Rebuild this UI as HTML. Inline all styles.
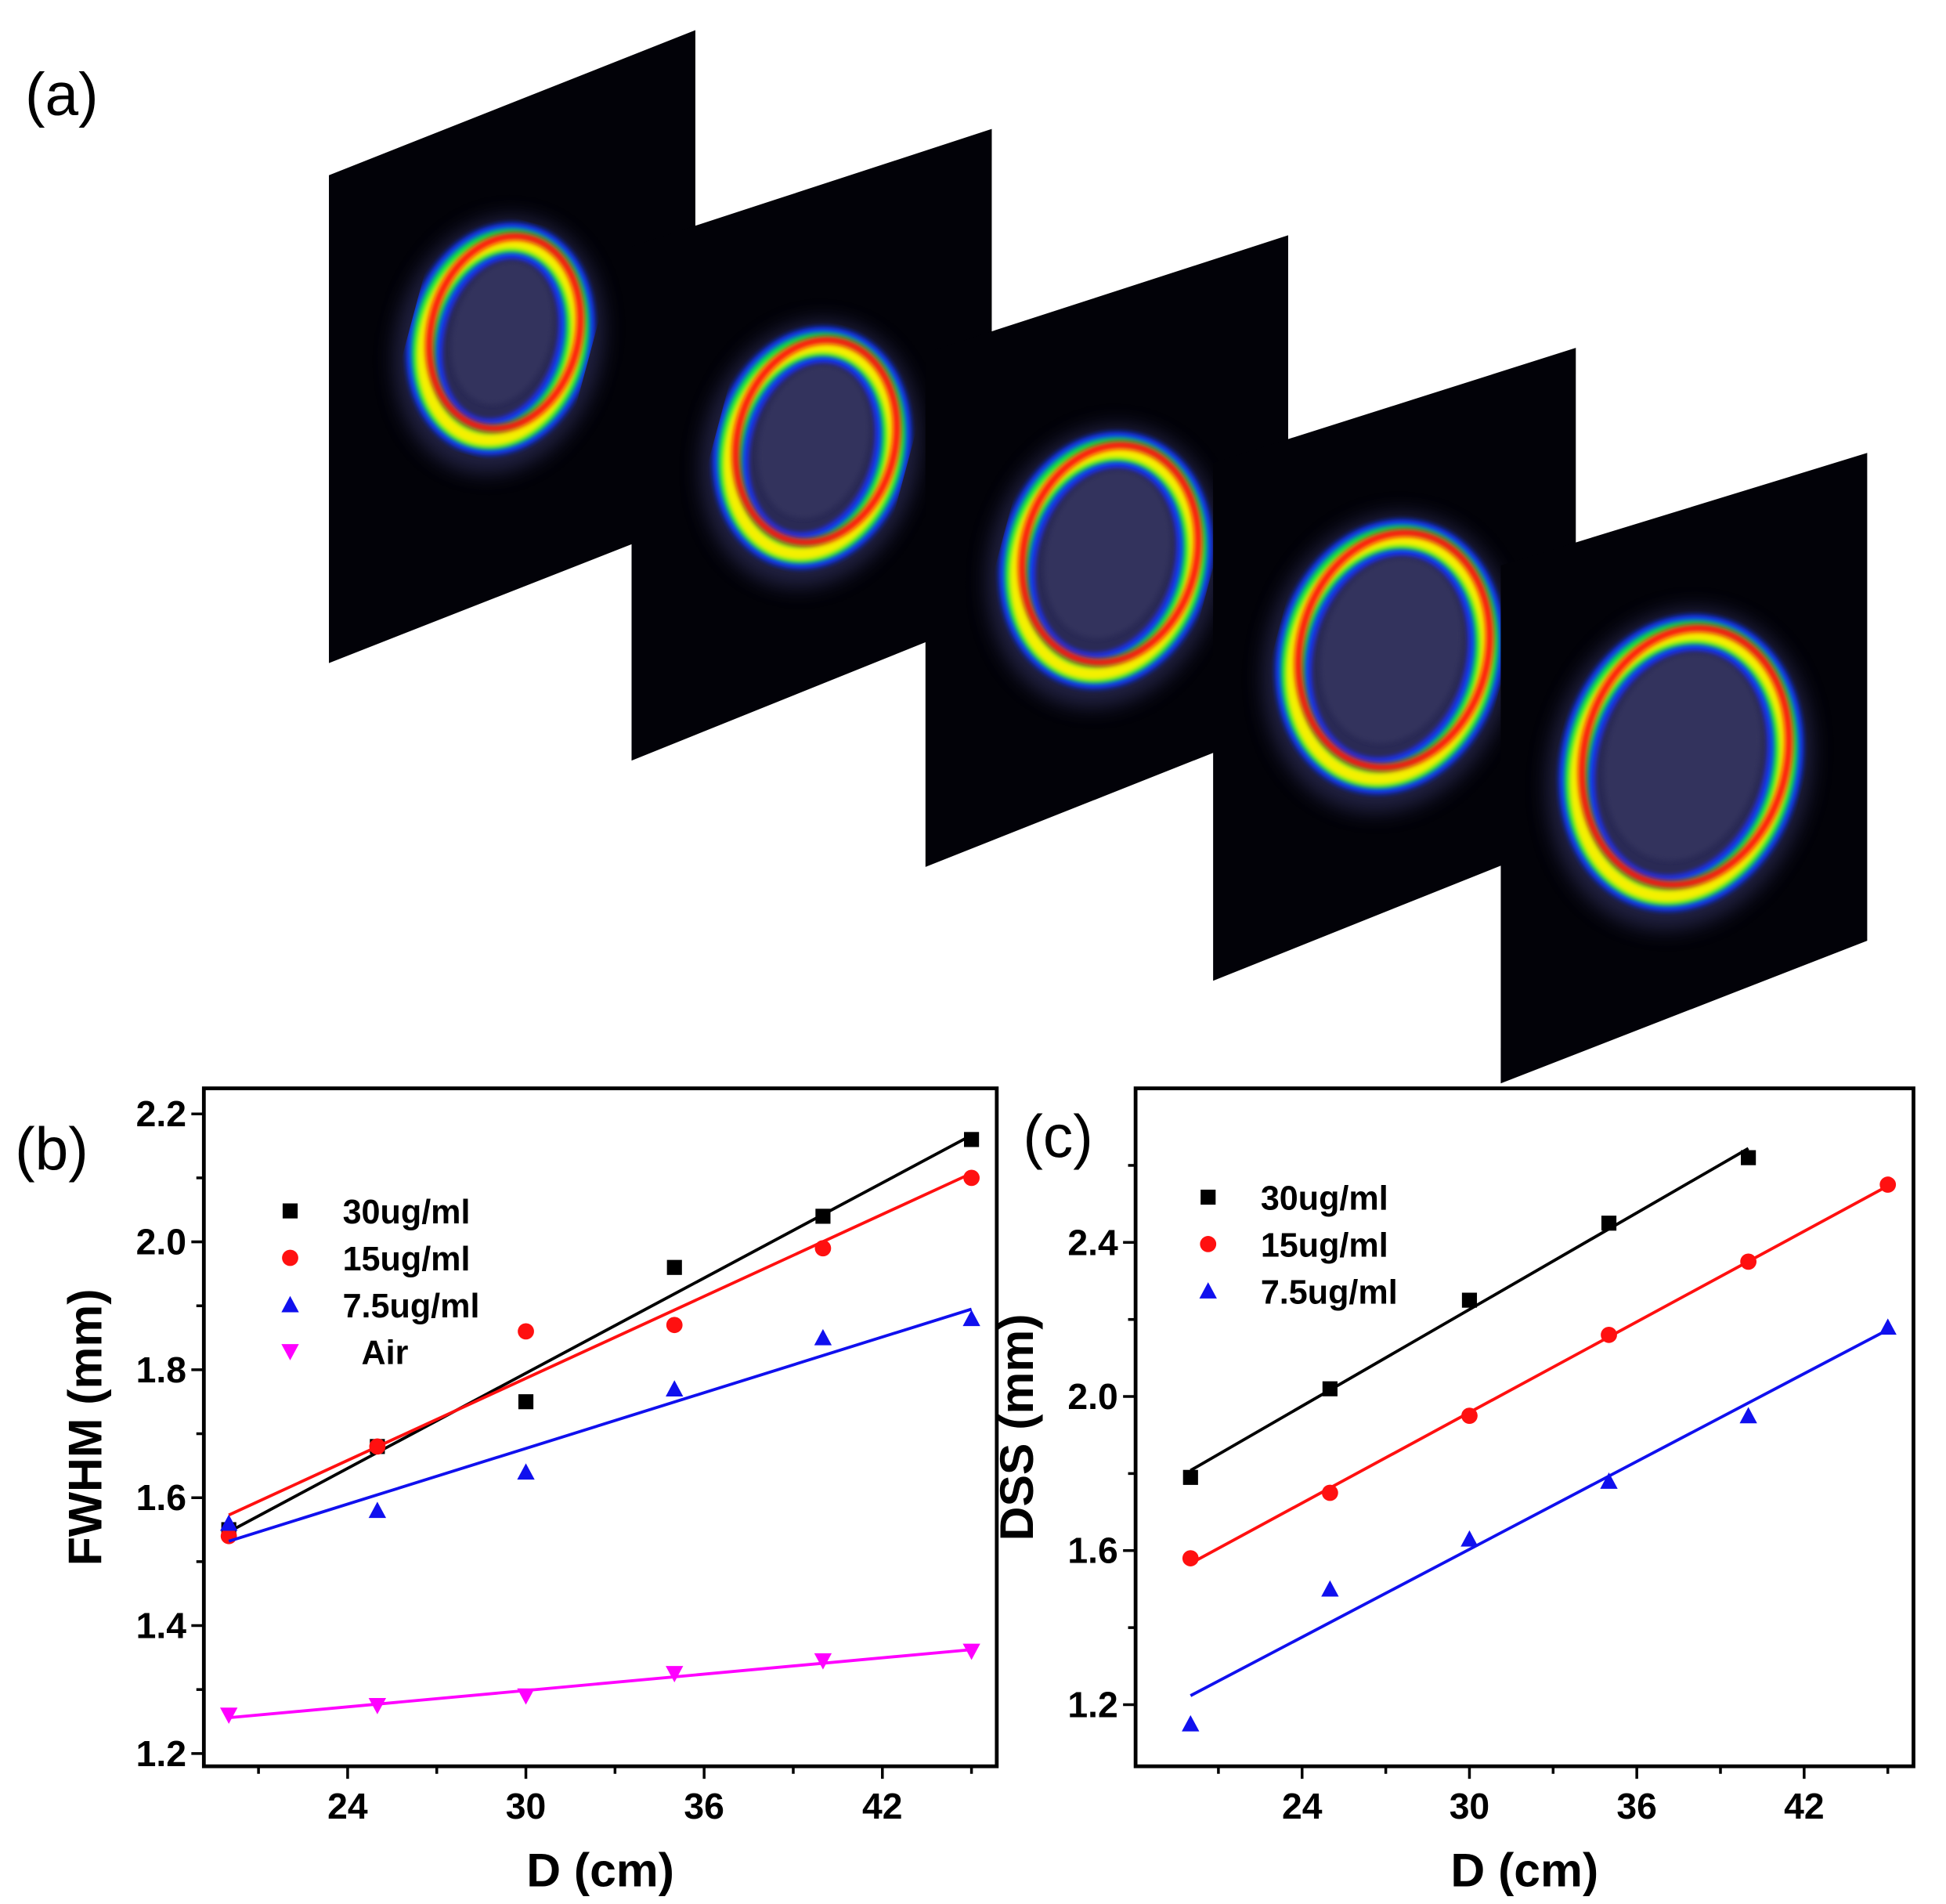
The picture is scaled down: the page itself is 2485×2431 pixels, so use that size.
<!DOCTYPE html>
<html><head><meta charset="utf-8"><style>
html,body{margin:0;padding:0;background:#fff;}
svg{display:block;}
text{font-family:"Liberation Sans",Arial,sans-serif;}
</style></head><body>
<svg id="fig" width="2485" height="2431" viewBox="0 0 1556 1522" xmlns="http://www.w3.org/2000/svg">
<defs>
<filter id="blur2"><feGaussianBlur stdDeviation="2"/></filter>
<filter id="blur6"><feGaussianBlur stdDeviation="8"/></filter>
</defs>
<g id="panelA"></g>
<text x="20" y="92" font-size="48">(a)</text>
<g id="chartB"></g>
<g id="chartC"></g>
</svg>
<script>
const NS='http://www.w3.org/2000/svg';
function mk(parent,tag,attrs){const e=document.createElementNS(NS,tag);for(const k in attrs)e.setAttribute(k,attrs[k]);parent.appendChild(e);return e;}

// ---------- Panel (a): beam images ----------
const panelA=document.getElementById('panelA');
const plates=[[263,140,556,24,556,415,263,530],[505,197,793,103,793,492,505,608],[740,282,1030,188,1030,578,740,693],[970,370,1260,278,1260,668,970,784],[1200,452,1493,362,1493,752,1200,866]];
const rings=[[401,268,60,80],[650,355,64,84],[885,445,70,90],[1112,522,76,97],[1345,607,82,106]];
plates.forEach((p,i)=>{
  const g=mk(panelA,'g',{});
  
  
  mk(g,'polygon',{points:`${p[0]},${p[1]} ${p[2]},${p[3]} ${p[4]},${p[5]} ${p[6]},${p[7]}`,fill:'#020208'});
  const [cx,cy,rx,ry]=rings[i];
  const t=`rotate(15 ${cx} ${cy})`;
  mk(g,'ellipse',{cx,cy:cy+8,rx:rx+22,ry:ry+24,fill:'#40407a',opacity:0.5,filter:'url(#blur6)',transform:t});
  mk(g,'ellipse',{cx,cy:cy+3,rx,ry,fill:'#2a2a55',stroke:'#1030ff',"stroke-width":28,filter:'url(#blur2)',transform:t});
  mk(g,'ellipse',{cx,cy:cy+3,rx,ry,fill:'none',stroke:'#00e840',"stroke-width":19,filter:'url(#blur2)',transform:t});
  mk(g,'ellipse',{cx,cy:cy+5,rx,ry,fill:'none',stroke:'#f4f000',"stroke-width":11,filter:'url(#blur2)',transform:t});
  mk(g,'ellipse',{cx:cx+2,cy:cy-3,rx:rx-1,ry:ry-2,fill:'none',stroke:'#ff1010',"stroke-width":6,filter:'url(#blur2)',transform:t});
  mk(g,'ellipse',{cx,cy:cy-2,rx:rx-21,ry:ry-22,fill:'#34345e',opacity:0.85,filter:'url(#blur2)',transform:t});
});

// ---------- Chart data ----------
const xB=[20,25,30,35,40,45];
const b30=[1.55,1.68,1.75,1.96,2.04,2.16];
const b15=[1.54,1.68,1.86,1.87,1.99,2.10];
const b75=[1.56,1.58,1.64,1.77,1.85,1.88];
const bAir=[1.26,1.275,1.29,1.325,1.345,1.36];
const bYTicks=[1.2,1.4,1.6,1.8,2.0,2.2];
const bYLabels=['1.2','1.4','1.6','1.8','2.0','2.2'];
const xTicks=[24,30,36,42];
const xTickLabels=['24','30','36','42'];
const xC=[20,25,30,35,40,45];
const c30=[1.79,2.02,2.25,2.45,2.62];
const c15=[1.58,1.75,1.95,2.16,2.35,2.55];
const c75=[1.15,1.50,1.63,1.78,1.95,2.18];
const cYTicks=[1.2,1.6,2.0,2.4];
const cYLabels=['1.2','1.6','2.0','2.4'];
const legB=['30ug/ml','15ug/ml','7.5ug/ml','Air'];
const legC=['30ug/ml','15ug/ml','7.5ug/ml'];

function fit(xs,ys){const n=ys.length;const x=xs.slice(0,n);let mx=0,my=0;for(let i=0;i<n;i++){mx+=x[i];my+=ys[i];}mx/=n;my/=n;let sxy=0,sxx=0;for(let i=0;i<n;i++){sxy+=(x[i]-mx)*(ys[i]-my);sxx+=(x[i]-mx)**2;}const b=sxy/sxx;return [b,my-b*mx,x[0],x[n-1]];}

function marker(g,type,x,y,color){
  let e;
  if(type==='sq') e=mk(g,'rect',{x:x-6,y:y-6,width:12,height:12,fill:color});
  else if(type==='ci') e=mk(g,'circle',{cx:x,cy:y,r:6.5,fill:color});
  else if(type==='up') e=mk(g,'polygon',{points:`${x},${y-7} ${x+7},${y+6} ${x-7},${y+6}`,fill:color});
  else e=mk(g,'polygon',{points:`${x},${y+7} ${x+7},${y-6} ${x-7},${y-6}`,fill:color});
  return e;
}

function chart(id,box,xr,yr,yTicks,yLabels,minorY,ytitle,series,legend,legPos){
  const g=document.getElementById(id);
  const [L,T,R,B]=box;
  const sx=v=>L+(v-xr[0])/(xr[1]-xr[0])*(R-L);
  const sy=v=>B-(v-yr[0])/(yr[1]-yr[0])*(B-T);
  const frame=mk(g,'rect',{x:L,y:T,width:R-L,height:B-T,fill:'none',stroke:'#000','stroke-width':3});
  
  
  xTicks.forEach((v,i)=>{
    mk(g,'line',{x1:sx(v),y1:B,x2:sx(v),y2:B+10,stroke:'#000','stroke-width':2.2});
    const m=v+3; if(sx(m)<R) mk(g,'line',{x1:sx(m),y1:B,x2:sx(m),y2:B+6,stroke:'#000','stroke-width':2.2});
    const t=mk(g,'text',{x:sx(v),y:B+42,'font-size':29,'font-weight':'bold','text-anchor':'middle'});
    t.textContent=xTickLabels[i];
    
    
  });
  const m0=xTicks[0]-3; if(sx(m0)>L) mk(g,'line',{x1:sx(m0),y1:B,x2:sx(m0),y2:B+6,stroke:'#000','stroke-width':2.2});
  yTicks.forEach((v,i)=>{
    mk(g,'line',{x1:L-10,y1:sy(v),x2:L,y2:sy(v),stroke:'#000','stroke-width':2.2});
    const t=mk(g,'text',{x:L-14,y:sy(v)+10,'font-size':29,'font-weight':'bold','text-anchor':'end'});
    t.textContent=yLabels[i];
    
    
  });
  minorY.forEach(v=>mk(g,'line',{x1:L-6,y1:sy(v),x2:L,y2:sy(v),stroke:'#000','stroke-width':2.2}));
  const xt=mk(g,'text',{x:(L+R)/2,y:B+96,'font-size':38,'font-weight':'bold','text-anchor':'middle'});
  xt.textContent='D (cm)';
  
  
  const yx=L-82, yy=(T+B)/2;
  const yt=mk(g,'text',{x:yx,y:yy,'font-size':38,'font-weight':'bold','text-anchor':'middle',transform:`rotate(-90 ${yx} ${yy})`});
  yt.textContent=ytitle;
  
  
  series.forEach((s,k)=>{
    const sg=mk(g,'g',{});
    
    
    const [b,a,x0,x1]=fit(s.x,s.y);
    const ln=mk(sg,'line',{x1:sx(x0),y1:sy(a+b*x0),x2:sx(x1),y2:sy(a+b*x1),stroke:s.c,'stroke-width':2.4});
    
    
    s.y.forEach((v,i)=>{
      const p=marker(sg,s.m,sx(s.x[i]),sy(v),s.c);
      
      
    });
    const lg=mk(g,'g',{});
    
    
    const ly=legPos[1]+k*37.5;
    marker(lg,s.m,legPos[0],ly,s.c);
    const lt=mk(lg,'text',{x:legPos[0]+(legend[k]==='Air'?57:42),y:ly+10,'font-size':27,'font-weight':'bold'});
    lt.textContent=legend[k];
  });
}

chart('chartB',[163,870,797,1412],[19.16,45.85],[1.18,2.24],bYTicks,bYLabels,[1.3,1.5,1.7,1.9,2.1],'FWHM (mm)',
  [{x:xB,y:b30,c:'#000',m:'sq'},{x:xB,y:b15,c:'#ff1010',m:'ci'},{x:xB,y:b75,c:'#1010ee',m:'up'},{x:xB,y:bAir,c:'#ff00ff',m:'dn'}],
  legB,[232,968]);
chart('chartC',[908,870,1530,1412],[18.03,45.92],[1.04,2.80],cYTicks,cYLabels,[1.4,1.8,2.2,2.6],'DSS (mm)',
  [{x:xC,y:c30,c:'#000',m:'sq'},{x:xC,y:c15,c:'#ff1010',m:'ci'},{x:xC,y:c75,c:'#1010ee',m:'up'}],
  legC,[966,957]);

const f=document.getElementById('fig');
const tb=document.createElementNS(NS,'text');
tb.setAttribute('x','12');tb.setAttribute('y','935');tb.setAttribute('font-size','48');


tb.textContent='(b)';f.appendChild(tb);
const tc=document.createElementNS(NS,'text');
tc.setAttribute('x','818');tc.setAttribute('y','925');tc.setAttribute('font-size','48');


tc.textContent='(c)';f.appendChild(tc);
</script>
</body></html>
